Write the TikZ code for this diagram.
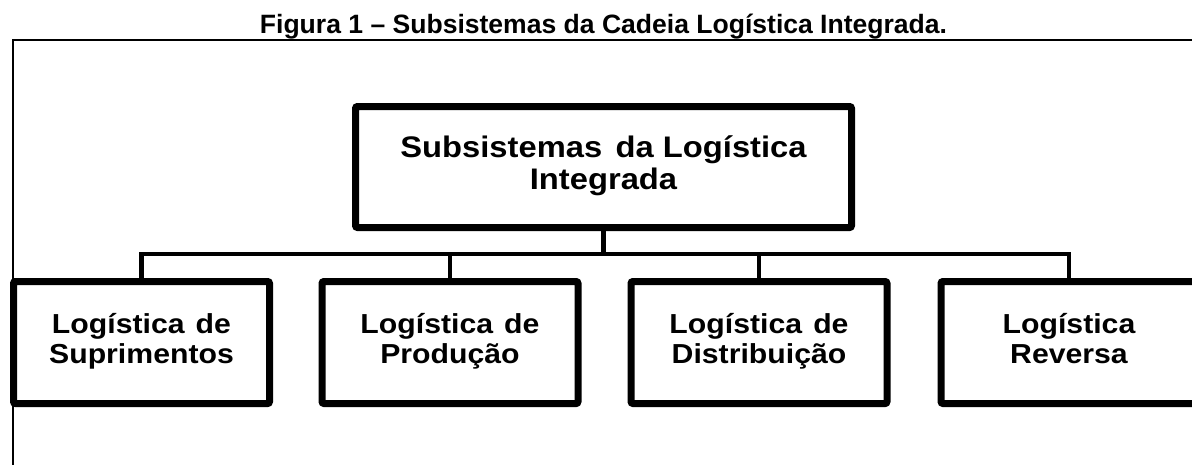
\documentclass[tikz,border=0pt]{standalone}
\usepackage{fontspec}
\setmainfont{Liberation Sans}
\newfontfamily\boxfont[FakeStretch=1.1]{Liberation Sans}
\usetikzlibrary{shadows}
\begin{document}
\begin{tikzpicture}[x=0.75pt,y=-0.75pt,
  box/.style={draw=black, line width=5.25pt, fill=white, rounded corners=1.5pt,
    align=center, inner sep=0pt,
    drop shadow={shadow xshift=1pt, shadow yshift=-2.5pt, opacity=0.3, fill=black}},
  topbox/.style={box, minimum width=372pt, minimum height=90.75pt,
    font=\boxfont\bfseries\fontsize{22.3pt}{24pt}\selectfont},
  subbox/.style={box, minimum width=192pt, minimum height=91.5pt,
    font=\boxfont\bfseries\fontsize{20.6pt}{22.5pt}\selectfont},
  link/.style={draw=black, line width=3.4pt},
  frame/.style={draw=black, line width=1.1pt}]
\clip (0,0) rectangle (1192,464);
\fill[white] (0,0) rectangle (1192,464);
% title
\node[anchor=base, font=\bfseries\fontsize{19.9pt}{22pt}\selectfont, inner sep=0pt] (title) at (603.5,33)
  {Figura 1 -- Subsistemas da Cadeia Logística Integrada.};
% outer frame (cropped at right and bottom)
\coordinate (fa) at (13,480);
\coordinate (fb) at (13,40);
\coordinate (fc) at (1210,40);
\draw[frame] (fa) -- (fb) -- (fc);
% junction of the connectors
\coordinate (j) at (603.5,254);
% boxes
\node[topbox] (top) at (603.5,167) {Subsistemas\hspace{0.15em} da Logística\\Integrada\strut};
\node[subbox] (b1) at (141.5,342.5) {Logística\hspace{0.1em} de\\Suprimentos\strut};
\node[subbox] (b2) at (450,342.5) {Logística\hspace{0.1em} de\\Produção\strut};
\node[subbox] (b3) at (759,342.5) {Logística\hspace{0.1em} de\\Distribuição\strut};
\node[subbox] (b4) at (1069,342.5) {Logística\\Reversa\strut};
% connectors
\draw[link] (top.south) -- (j);
\draw[link] (b1.north) |- (j) -| (b4.north);
\draw[link] (b2.north) -- (b2.north |- j);
\draw[link] (b3.north) -- (b3.north |- j);
\end{tikzpicture}
\end{document}
